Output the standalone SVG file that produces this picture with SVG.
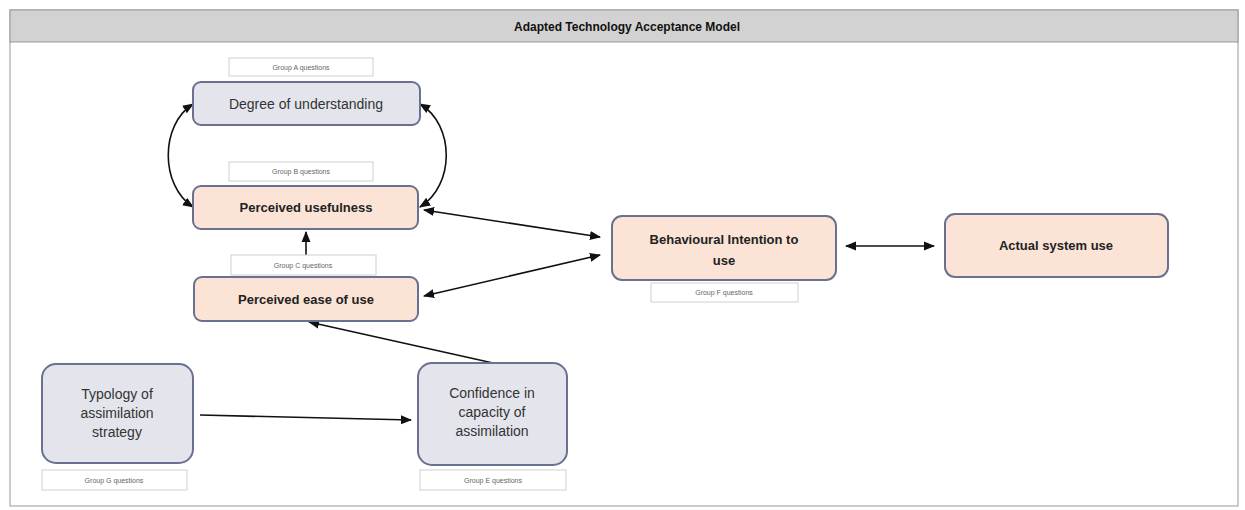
<svg xmlns="http://www.w3.org/2000/svg" width="1245" height="510" viewBox="0 0 1245 510">
<defs>
<marker id="ah" viewBox="0 0 10 10" refX="9" refY="5" markerWidth="7" markerHeight="7" orient="auto-start-reverse">
<path d="M0,1 L10,5 L0,9 z" fill="#111"/>
</marker>
<style>
.gray{fill:#e4e5ec;stroke:#6a7090;stroke-width:2}
.peach{fill:#fbe4d5;stroke:#6a7090;stroke-width:2}
.lbl{fill:#fff;stroke:#d0d0d0;stroke-width:1}
.lt{font-family:"Liberation Sans",Arial,sans-serif;font-size:7px;fill:#666;text-anchor:middle}
.nt{font-family:"Liberation Sans",Arial,sans-serif;font-size:14px;fill:#333;text-anchor:middle}
.bt{font-family:"Liberation Sans",Arial,sans-serif;font-size:13px;font-weight:bold;fill:#222;text-anchor:middle}
.c{fill:none;stroke:#111;stroke-width:1.6}
</style>
</defs>
<rect width="1245" height="510" fill="#fff"/>
<g id="frame">
<rect x="10" y="10" width="1228" height="496" fill="#fff" stroke="#999" stroke-width="1"/>
<rect x="10" y="10" width="1228" height="32" fill="#d3d2d2" stroke="#999" stroke-width="1"/>
<text x="627" y="31" font-family="Liberation Sans,Arial,sans-serif" font-size="12" font-weight="bold" fill="#111" text-anchor="middle">Adapted Technology Acceptance Model</text>
</g>
<g id="connectors">
<path class="c" d="M193,104 C160,125 160,185 193,207" marker-start="url(#ah)" marker-end="url(#ah)"/>
<path class="c" d="M420,104 C455,125 455,185 420,207" marker-start="url(#ah)" marker-end="url(#ah)"/>
<line class="c" x1="424" y1="210" x2="600" y2="237" marker-start="url(#ah)" marker-end="url(#ah)"/>
<line class="c" x1="424" y1="296" x2="600" y2="255" marker-start="url(#ah)" marker-end="url(#ah)"/>
<line class="c" x1="306" y1="255" x2="306" y2="232" marker-end="url(#ah)"/>
<line class="c" x1="493" y1="363" x2="309" y2="322" marker-end="url(#ah)"/>
<line class="c" x1="200" y1="415" x2="411" y2="420" marker-end="url(#ah)"/>
<line class="c" x1="846" y1="246" x2="934" y2="246" marker-start="url(#ah)" marker-end="url(#ah)"/>
</g>
<g id="groupA"><rect class="lbl" x="229" y="58" width="144" height="18"/><text class="lt" x="301" y="70">Group A questions</text></g>
<g id="understanding"><rect class="gray" x="193" y="82" width="227" height="43" rx="8"/><text class="nt" x="306" y="109">Degree of understanding</text></g>
<g id="groupB"><rect class="lbl" x="229" y="162" width="144" height="19"/><text class="lt" x="301" y="174">Group B questions</text></g>
<g id="usefulness"><rect class="peach" x="193" y="186" width="225" height="43" rx="8"/><text class="bt" x="306" y="212">Perceived usefulness</text></g>
<g id="groupC"><rect class="lbl" x="231" y="255" width="145" height="20"/><text class="lt" x="303" y="268">Group C questions</text></g>
<g id="ease"><rect class="peach" x="194" y="277" width="224" height="44" rx="8"/><text class="bt" x="306" y="304">Perceived ease of use</text></g>
<g id="groupF"><rect class="lbl" x="651" y="283" width="147" height="19"/><text class="lt" x="724" y="295">Group F questions</text></g>
<g id="intention"><rect class="peach" x="612" y="216" width="224" height="64" rx="10"/><text class="bt" x="724" y="244">Behavioural Intention to</text><text class="bt" x="724" y="265">use</text></g>
<g id="actual"><rect class="peach" x="945" y="214" width="223" height="63" rx="10"/><text class="bt" x="1056" y="250">Actual system use</text></g>
<g id="typology"><rect class="gray" x="42" y="364" width="151" height="99" rx="14"/><text class="nt" x="117" y="399">Typology of</text><text class="nt" x="117" y="418">assimilation</text><text class="nt" x="117" y="437">strategy</text></g>
<g id="groupG"><rect class="lbl" x="42" y="470" width="145" height="20"/><text class="lt" x="114" y="483">Group G questions</text></g>
<g id="confidence"><rect class="gray" x="418" y="363" width="149" height="102" rx="14"/><text class="nt" x="492" y="398">Confidence in</text><text class="nt" x="492" y="417">capacity of</text><text class="nt" x="492" y="436">assimilation</text></g>
<g id="groupE"><rect class="lbl" x="420" y="470" width="146" height="20"/><text class="lt" x="493" y="483">Group E questions</text></g>
</svg>
